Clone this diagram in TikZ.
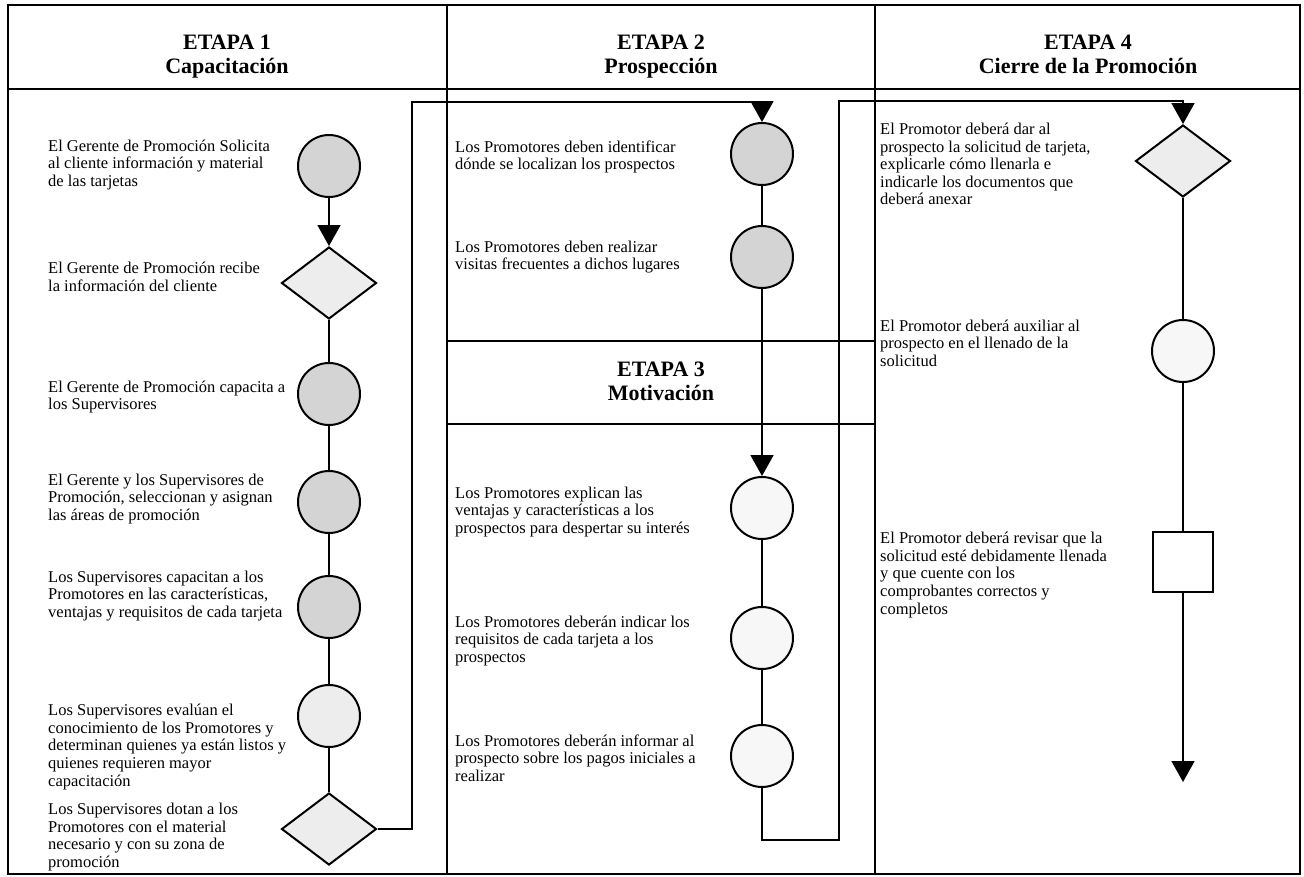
\documentclass[tikz,border=0pt]{standalone}
\usepackage{fontspec}
\setmainfont{Liberation Serif}
\usetikzlibrary{shapes.geometric,arrows.meta}
\begin{document}
\begin{tikzpicture}[x=1pt,y=-1pt,
  frame/.style={line width=1.6pt},
  flow/.style={line width=1.8pt},
  tipped/.style={-{Triangle[width=23pt,length=21pt]}},
  circ/.style={circle,draw,line width=2pt,minimum size=62pt,inner sep=0pt},
  dia/.style={diamond,draw,line width=2pt,minimum width=95pt,minimum height=72pt,inner sep=0pt},
  sq/.style={rectangle,draw,line width=2pt,minimum size=60pt,inner sep=0pt},
  txt/.style={anchor=west,align=left,inner sep=0pt,font=\fontsize{16.5}{17.6}\selectfont},
  head/.style={align=center,inner sep=0pt,font=\bfseries\fontsize{22}{24.5}\selectfont},
  dense/.style={fill=black!17},
  light/.style={fill=black!7},
  faint/.style={fill=black!3}]
\useasboundingbox (0,0) rectangle (1304,876);

% frame, columns and headers
\draw[frame] (8,5) rectangle (1300,874);
\draw[frame] (8,89) -- (1300,89);
\draw[frame] (447,5) -- (447,874);
\draw[frame] (875,5) -- (875,874);
\draw[frame] (447,341) -- (875,341);
\draw[frame] (447,424) -- (875,424);

\node[head] (h1) at (227,58) {ETAPA 1\\Capacitación\strut};
\node[head] (h2) at (661,58) {ETAPA 2\\Prospección\strut};
\node[head] (h4) at (1088,58) {ETAPA 4\\Cierre de la Promoción\strut};
\node[head] (h3) at (661,385) {ETAPA 3\\Motivación\strut};

% stage 1
\node[circ,dense] (c11) at (329,166) {};
\node[dia,light] (d12) at (329,283) {};
\node[circ,dense] (c13) at (329,394) {};
\node[circ,dense] (c14) at (329,502) {};
\node[circ,dense] (c15) at (329,607) {};
\node[circ,light] (c16) at (329,716) {};
\node[dia,light] (d17) at (329,829) {};

\node[txt] (t11) at (48,165) {El Gerente de Promoción Solicita\\al cliente información y material\\de las tarjetas};
\node[txt] (t12) at (48,277) {El Gerente de Promoción recibe\\la información del cliente};
\node[txt] (t13) at (48,397) {El Gerente de Promoción capacita a\\los Supervisores};
\node[txt] (t14) at (48,499) {El Gerente y los Supervisores de\\Promoción, seleccionan y asignan\\las áreas de promoción};
\node[txt] (t15) at (48,596) {Los Supervisores capacitan a los\\Promotores en las características,\\ventajas y requisitos de cada tarjeta};
\node[txt] (t16) at (48,747) {Los Supervisores evalúan el\\conocimiento de los Promotores y\\determinan quienes ya están listos y\\quienes requieren mayor\\capacitación};
\node[txt] (t17) at (48,837) {Los Supervisores dotan a los\\Promotores con el material\\necesario y con su zona de\\promoción};

% stage 2 and 3
\node[circ,dense] (c21) at (762,154) {};
\node[circ,dense] (c22) at (762,257) {};
\node[circ,faint] (c23) at (762,508) {};
\node[circ,faint] (c24) at (762,638) {};
\node[circ,faint] (c25) at (762,756) {};

\node[txt] (t21) at (455,157) {Los Promotores deben identificar\\dónde se localizan los prospectos};
\node[txt] (t22) at (455,257) {Los Promotores deben realizar\\visitas frecuentes a dichos lugares};
\node[txt] (t23) at (455,512) {Los Promotores explican las\\ventajas y características a los\\prospectos para despertar su interés};
\node[txt] (t24) at (455,641) {Los Promotores deberán indicar los\\requisitos de cada tarjeta a los\\prospectos};
\node[txt] (t25) at (455,758) {Los Promotores deberán informar al\\prospecto sobre los pagos iniciales a\\realizar};

% stage 4
\node[dia,light] (d41) at (1183,161) {};
\node[circ,faint] (c42) at (1183,351) {};
\node[sq,fill=white] (s43) at (1183,562) {};
\coordinate (e4) at (1183,782);

\node[txt] (t41) at (880,164) {El Promotor deberá dar al\\prospecto la solicitud de tarjeta,\\explicarle cómo llenarla e\\indicarle los documentos que\\deberá anexar};
\node[txt] (t42) at (880,343) {El Promotor deberá auxiliar al\\prospecto en el llenado de la\\solicitud};
\node[txt] (t43) at (880,575) {El Promotor deberá revisar que la\\solicitud esté debidamente llenada\\y que cuente con los\\comprobantes correctos y\\completos};

% routing points
\coordinate (j1) at (412,102);
\coordinate (j2) at (839,840);
\coordinate (j3) at (839,101);

% connectors
\draw[flow,tipped] (c11) -- (d12);
\draw[flow] (d12) -- (c13) -- (c14) -- (c15) -- (c16) -- (d17);
\draw[flow,tipped] (d17.east) -| (j1) -| (c21.north);
\draw[flow] (c21) -- (c22);
\draw[flow,tipped] (c22) -- (c23);
\draw[flow] (c23) -- (c24) -- (c25);
\draw[flow,tipped] (c25.south) |- (j2) -- (j3) -| (d41.north);
\draw[flow] (d41) -- (c42) -- (s43);
\draw[flow,tipped] (s43) -- (e4);
\end{tikzpicture}
\end{document}
